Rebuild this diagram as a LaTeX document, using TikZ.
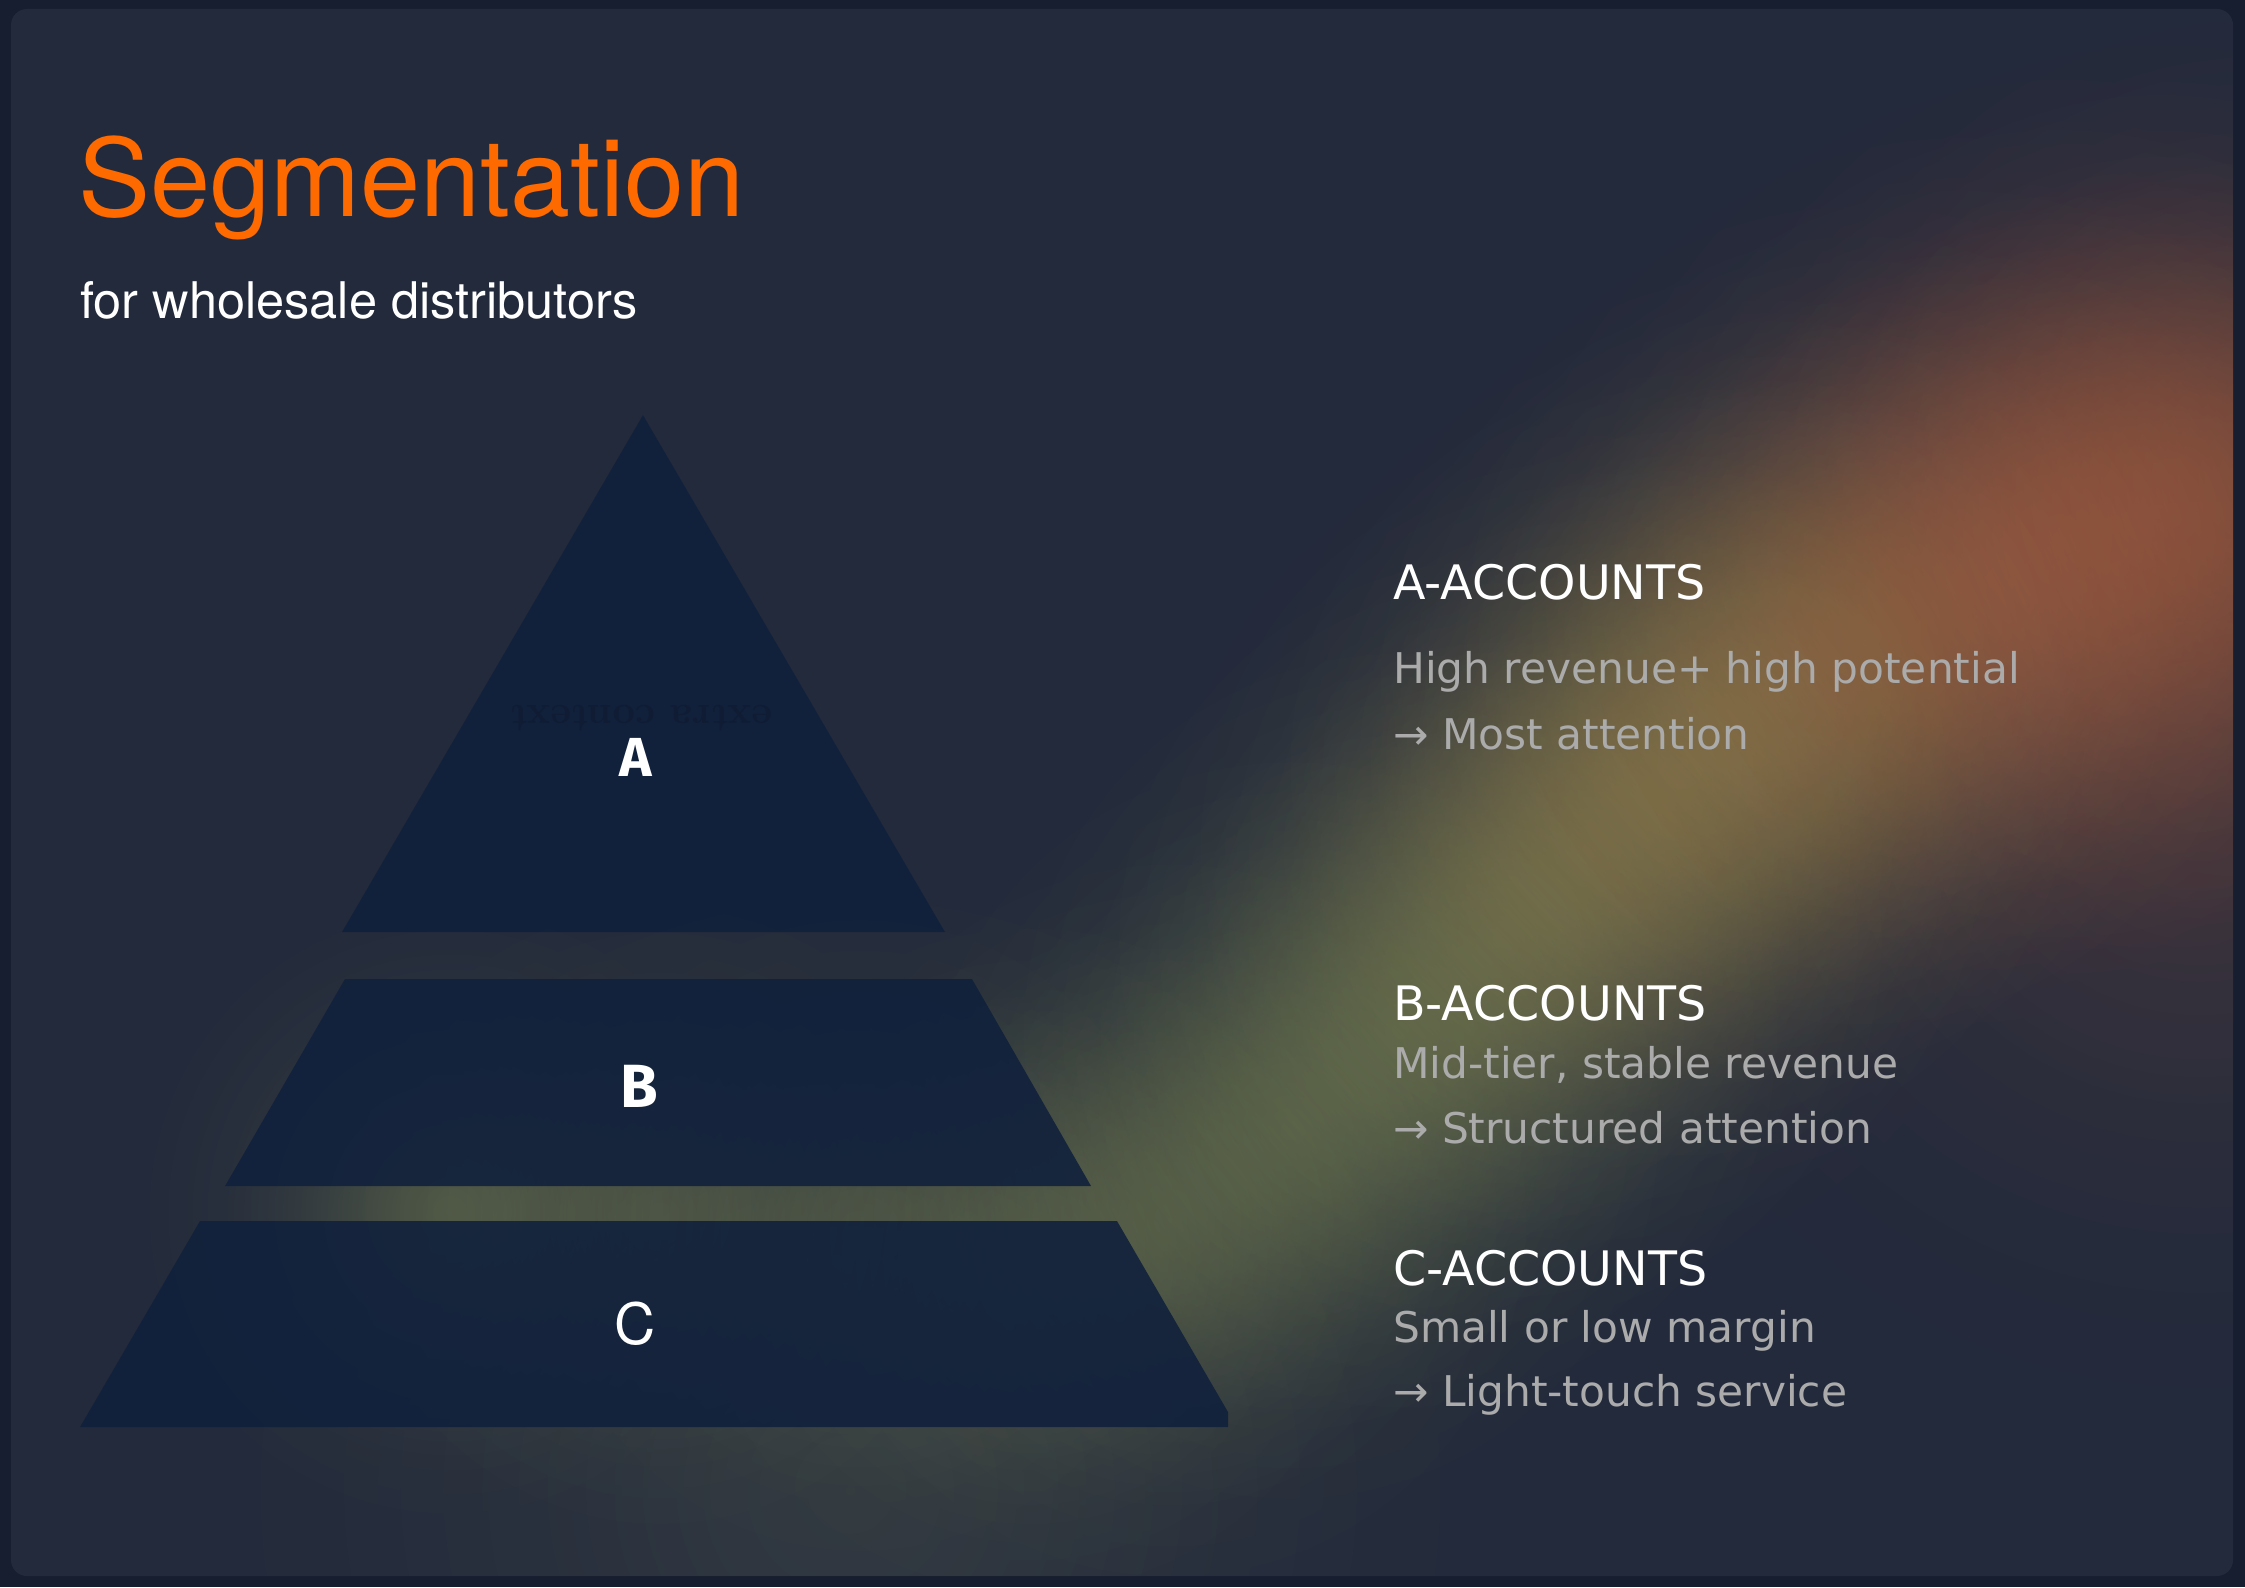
\documentclass[tikz,border=0pt]{standalone}
\usepackage{fontspec}
\setsansfont{TeX Gyre Heros}
\newfontfamily\rightfont{DejaVu Sans}
\newfontfamily\labfont{Fira Sans}
\usetikzlibrary{fadings}
\definecolor{outerbg}{HTML}{161E2F}
\definecolor{panelbg}{HTML}{232A3B}
\definecolor{pyr}{HTML}{11213C}
\definecolor{ttl}{HTML}{FF6A00}
\definecolor{subtxt}{HTML}{ABABAB}
\definecolor{ghost}{HTML}{0F1C34}
\definecolor{olivec}{HTML}{909A58}
\definecolor{amberc}{HTML}{A89050}
\definecolor{rustc}{HTML}{B0603E}
\definecolor{haze}{HTML}{5C6452}
\pgfdeclareradialshading{gaussshade}{\pgfpointorigin}{color(0bp)=(white); color(4bp)=(white!85!black); color(8bp)=(white!58!black); color(12.5bp)=(white!30!black); color(17bp)=(white!11!black); color(21.5bp)=(white!3!black); color(25bp)=(black); color(50bp)=(black)}
\pgfdeclarefading{softglow}{\pgfuseshading{gaussshade}}
\tikzset{
  glowblob/.style={path fading=softglow},
  tier/.style={fill=pyr, fill opacity=0.9},
  head/.style={anchor=base west, inner sep=0pt, text=white, font=\rightfont\fontsize{47.5}{50}\selectfont},
  body/.style={anchor=base west, inner sep=0pt, text=subtxt, font=\rightfont\fontsize{42.3}{45}\selectfont},
}
\begin{document}
\begin{tikzpicture}[x=1pt,y=-1pt]
\useasboundingbox (0,0) rectangle (2245,1587);
\fill[outerbg] (0,0) rectangle (2245,1587);
\fill[panelbg, rounded corners=16pt] (11,9) rectangle (2233,1576);
\begin{scope}
  \clip[rounded corners=16pt] (11,9) rectangle (2233,1576);
  % bottom haze
  \fill[haze, fill opacity=0.26, glowblob] (850,1490) circle (760);
  % broad reddish haze right
  \fill[rustc, fill opacity=0.20, glowblob] (2200,780) circle (700);
  % diagonal glow band
  \foreach \px/\py/\r/\c/\o in {
     450/1212/340/olivec/0.38, 660/1215/360/olivec/0.28, 860/1235/380/olivec/0.22,
     1030/1260/400/olivec/0.22, 1170/1220/420/olivec/0.25,
     1290/1130/430/olivec/0.28, 1400/1030/440/olivec/0.30, 1500/940/440/olivec/0.32,
     1590/850/450/amberc/0.33, 1680/765/450/amberc/0.35, 1770/690/450/amberc/0.35,
     1860/630/460/amberc/0.30, 1960/580/480/rustc/0.32, 2060/540/500/rustc/0.35,
     2160/505/500/rustc/0.36, 2260/480/500/rustc/0.36} {
    \fill[\c, fill opacity=\o, glowblob] (\px,\py) circle (\r);
  }
\end{scope}

% pyramid tiers
\fill[tier] (643,415) -- (945,932) -- (342,932) -- cycle;
\fill[tier] (345,979) -- (972,979) -- (1091,1186) -- (225,1186) -- cycle;
\fill[tier] (200,1221) -- (1117,1221) -- (1228,1412) -- (1228,1427) -- (80,1427) -- cycle;

\node[rotate=180, inner sep=0pt, text=ghost, font=\rmfamily\bfseries\fontsize{40}{42}\selectfont] (ghosttxt) at (641,718) {extra context};
\node[anchor=base, inner sep=0pt, text=white, font=\labfont\bfseries\fontsize{55}{60}\selectfont] (labA) at (636,776) {A};
\node[anchor=base, inner sep=0pt, text=white, font=\labfont\bfseries\fontsize{61}{64}\selectfont] (labB) at (639,1107) {B};
\node[anchor=base, inner sep=0pt, text=white, font=\sffamily\fontsize{57}{60}\selectfont] (labC) at (635,1344) {C};

% title
\node[anchor=base west, inner sep=0pt, text=ttl, font=\sffamily\fontsize{108}{112}\selectfont] (title) at (78,216) {Segmentation};
\node[anchor=base west, inner sep=0pt, text=white, font=\sffamily\fontsize{50.5}{54}\selectfont] (subtitle) at (80,318) {for wholesale distributors};

% right column
\node[head] (ahead) at (1393,599) {A-ACCOUNTS};
\node[body] (abody1) at (1393,683) {High revenue+ high potential};
\node[body] (abody2) at (1393,749) {→ Most attention};

\node[head] (bhead) at (1393,1020) {B-ACCOUNTS};
\node[body] (bbody1) at (1393,1078) {Mid-tier, stable revenue};
\node[body] (bbody2) at (1393,1143) {→ Structured attention};

\node[head] (chead) at (1393,1285) {C-ACCOUNTS};
\node[body] (cbody1) at (1393,1342) {Small or low margin};
\node[body] (cbody2) at (1393,1406) {→ Light-touch service};
\end{tikzpicture}
\end{document}
